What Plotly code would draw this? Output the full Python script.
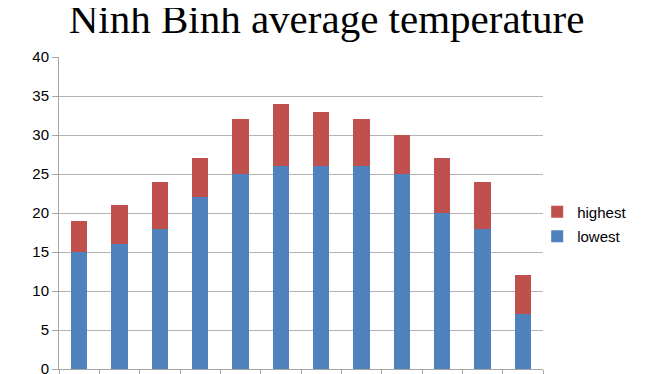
import plotly.graph_objects as go

months = ["Jan", "Feb", "Mar", "Apr", "May", "Jun", "Jul", "Aug", "Sep", "Oct", "Nov", "Dec"]
lowest = [15, 16, 18, 22, 25, 26, 26, 26, 25, 20, 18, 7]
highest = [19, 21, 24, 27, 32, 34, 33, 32, 30, 27, 24, 12]
y_ticks = [0, 5, 10, 15, 20, 25, 30, 35, 40]

diff = [h - l for h, l in zip(highest, lowest)]

fig = go.Figure()
fig.add_trace(go.Bar(x=months, y=lowest, name="lowest", legendgroup="lo", legendrank=2,
                     marker=dict(color="#4F81BD", line=dict(width=0))))
fig.add_trace(go.Bar(x=months, y=diff, name="highest", legendgroup="hi", legendrank=1,
                     marker=dict(color="#C0504D", line=dict(width=0)),
                     customdata=highest, hovertemplate="%{customdata}<extra>highest</extra>"))

# page body has an 8px margin, so the figure is drawn 8px smaller
W, H = 645, 366
L, R, T, B = 51, 110, 49, 5

fig.update_layout(
    width=W, height=H,
    margin=dict(l=L, r=R, t=T, b=B, autoexpand=False),
    barmode="stack",
    bargap=0.6,
    paper_bgcolor="white",
    plot_bgcolor="white",
    title=dict(text="Ninh Binh average temperature", x=318.5 / W, xanchor="center",
               y=1 - 10.5 / H, yanchor="middle", yref="container",
               font=dict(family="Liberation Serif", size=41, color="#000000")),
    legend=dict(x=0.988, y=0.465, xanchor="left", yanchor="middle", traceorder="grouped",
                font=dict(family="Liberation Sans", size=15, color="#000000"),
                itemwidth=30, tracegroupgap=2, bgcolor="rgba(0,0,0,0)"),
    showlegend=True,
)
fig.update_xaxes(showticklabels=False, ticks="outside", tickson="boundaries", ticklen=6,
                 tickcolor="#a6a6a6", showline=True, linecolor="#a6a6a6", linewidth=1,
                 showgrid=False)
fig.update_yaxes(range=[0, 40], tickvals=y_ticks, ticks="outside", ticklen=6, tickcolor="#a6a6a6",
                 showline=True, linecolor="#a6a6a6", linewidth=1, showgrid=True,
                 gridcolor="#b3b3b3", gridwidth=1, zeroline=False,
                 ticklabeloverflow="allow",
                 tickfont=dict(family="Liberation Sans", size=15, color="#000000"))

fig.write_html("out.html")
